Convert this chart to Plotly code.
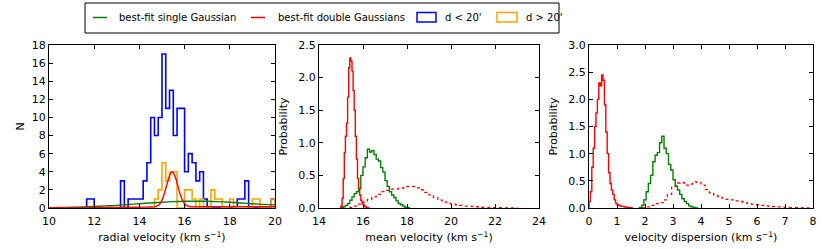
import numpy as np
import plotly.graph_objects as go

W, H = 830, 249

# ---------------- Left panel: radial velocity histograms ----------------
RV_BIN_WIDTH = 1.0 / 6.0
blue_start = 70 / 6.0   # 11.667 km/s
blue_counts = [1, 1, 0, 0, 0, 0, 0, 0, 0, 3, 0, 1, 1, 1, 1, 3, 5, 10, 8, 10,
               17, 11, 13, 8, 11, 11, 4, 6, 5, 3, 4, 1, 0, 0, 0, 0, 0, 0, 0, 0,
               1, 1, 3, 0, 0, 0, 0, 0, 0, 1]
orange_start = 88 / 6.0  # 14.667 km/s
orange_counts = [1, 2, 5, 3, 4, 4, 0, 0, 2, 2, 1, 0, 1, 0, 0, 2, 1, 1, 0, 0,
                 1, 0, 0, 0, 0, 0, 1, 1, 0, 0, 0, 1]

single_x = [10, 10.5, 11, 11.5, 12, 12.5, 13, 13.5, 14, 14.5, 15, 15.5, 16,
            16.5, 17, 17.5, 18, 18.5, 19, 19.5, 20]
single_y = [0.03, 0.05, 0.08, 0.12, 0.17, 0.23, 0.29, 0.38, 0.47, 0.56, 0.64,
            0.70, 0.74, 0.75, 0.74, 0.70, 0.64, 0.56, 0.47, 0.40, 0.34]

double_x = [10, 11, 12, 13, 14, 14.5, 14.7, 14.8, 14.9, 15.0, 15.1, 15.2, 15.3,
            15.4, 15.45, 15.5, 15.6, 15.7, 15.8, 15.9, 16.0, 16.1, 16.2, 16.4,
            17, 18, 19, 20]
double_y = [0.02, 0.03, 0.05, 0.07, 0.09, 0.11, 0.15, 0.24, 0.44, 0.87, 1.55,
            2.45, 3.34, 3.89, 3.97, 3.89, 3.34, 2.46, 1.57, 0.89, 0.47, 0.26,
            0.17, 0.13, 0.14, 0.15, 0.145, 0.13]

# ---------------- Middle panel: mean velocity posteriors ----------------
mv_red_start, mv_red_w = 14.95, 0.05
mv_red = [0.0, 0.03, 0.15, 0.45, 0.85, 1.1, 1.3, 1.7, 2.15, 2.3, 2.25, 2.1,
          1.8, 1.5, 1.1, 0.75, 0.45, 0.3, 0.2, 0.12, 0.08, 0.05, 0.03, 0.02,
          0.01, 0.005]
mv_green_start, mv_green_w = 15.0, 0.1
mv_green = [0.01, 0.02, 0.04, 0.07, 0.12, 0.17, 0.22, 0.25, 0.3, 0.5, 0.63,
            0.77, 0.9, 0.86, 0.88, 0.82, 0.75, 0.72, 0.62, 0.55, 0.42, 0.33,
            0.25, 0.2, 0.16, 0.11, 0.07, 0.05, 0.03, 0.01, 0.005]
mv_dot_start, mv_dot_w = 15.4, 0.2
mv_dot = [0.01, 0.03, 0.06, 0.09, 0.13, 0.17, 0.21, 0.25, 0.27, 0.29, 0.29,
          0.30, 0.31, 0.33, 0.33, 0.31, 0.28, 0.24, 0.2, 0.16, 0.12, 0.09,
          0.07, 0.06, 0.05, 0.04, 0.03, 0.025, 0.02, 0.015, 0.01, 0.008,
          0.006, 0.005, 0.004, 0.003, 0.002, 0.001]

# ---------------- Right panel: velocity dispersion posteriors ----------------
vd_red_start, vd_red_w = 0.0, 0.05
vd_red = [0.12, 0.3, 0.75, 1.1, 1.5, 1.75, 2.0, 2.3, 2.25, 2.45, 2.35, 1.9,
          1.4, 1.0, 0.65, 0.45, 0.33, 0.25, 0.15, 0.09, 0.06, 0.05, 0.04,
          0.03, 0.03, 0.02, 0.015, 0.01, 0.01, 0.005, 0.003]
vd_green_start, vd_green_w = 1.8, 0.08
vd_green = [0.01, 0.05, 0.15, 0.3, 0.45, 0.6, 0.85, 0.97, 1.02, 1.2, 1.32,
            1.1, 1.0, 0.8, 0.7, 0.52, 0.4, 0.33, 0.25, 0.17, 0.12, 0.08, 0.04,
            0.02, 0.01, 0.003]
vd_dot_start, vd_dot_w = 1.9, 0.15
vd_dot = [0.005, 0.02, 0.05, 0.08, 0.1, 0.15, 0.25, 0.4, 0.46, 0.47, 0.42,
          0.44, 0.48, 0.47, 0.42, 0.34, 0.28, 0.24, 0.21, 0.18, 0.16, 0.15,
          0.13, 0.12, 0.1, 0.08, 0.07, 0.06, 0.05, 0.04, 0.03, 0.025, 0.02,
          0.015, 0.01, 0.008, 0.006, 0.005, 0.003, 0.002, 0.001]

GREEN, RED, BLUE, ORANGE = "#008000", "#FF0000", "#0000FF", "#FFA500"
FONT = "DejaVu Sans"


def step_xy(start, width, vals):
    vals = list(vals)
    n = len(vals)
    edges = start + width * np.arange(n + 1)
    xs = [edges[0]] + list(edges[:-1]) + [edges[-1]]
    ys = [0] + vals + [0]
    return xs, ys


fig = go.Figure()


def add_step(start, width, vals, color, xa, ya, dash="solid", lw=1.5):
    xs, ys = step_xy(start, width, vals)
    fig.add_trace(go.Scatter(x=xs, y=ys, mode="lines", line_shape="hv",
                             line=dict(color=color, width=lw, dash=dash),
                             xaxis=xa, yaxis=ya, showlegend=False,
                             hoverinfo="skip"))


add_step(blue_start, RV_BIN_WIDTH, blue_counts, BLUE, "x", "y", lw=1.6)
add_step(orange_start, RV_BIN_WIDTH, orange_counts, ORANGE, "x", "y", lw=1.6)
fig.add_trace(go.Scatter(x=single_x, y=single_y, mode="lines", line_shape="spline",
                         line=dict(color=GREEN, width=1.4), xaxis="x", yaxis="y",
                         showlegend=False))
fig.add_trace(go.Scatter(x=double_x, y=double_y, mode="lines", line_shape="spline",
                         line=dict(color=RED, width=1.4), xaxis="x", yaxis="y",
                         showlegend=False))

add_step(mv_dot_start, mv_dot_w, mv_dot, RED, "x2", "y2", dash="dot", lw=1.3)
add_step(mv_green_start, mv_green_w, mv_green, GREEN, "x2", "y2", lw=1.4)
add_step(mv_red_start, mv_red_w, mv_red, RED, "x2", "y2", lw=1.4)

add_step(vd_dot_start, vd_dot_w, vd_dot, RED, "x3", "y3", dash="dot", lw=1.3)
add_step(vd_green_start, vd_green_w, vd_green, GREEN, "x3", "y3", lw=1.4)
add_step(vd_red_start, vd_red_w, vd_red, RED, "x3", "y3", lw=1.4)

# ---------------- Layout ----------------
def px_x(p):
    return p / W


def px_y(p):
    return 1 - p / H


y_dom = [px_y(208), px_y(45)]
axcommon = dict(showline=True, linecolor="black", linewidth=1, mirror="allticks",
                ticks="inside", ticklen=4, tickcolor="black", showgrid=False,
                zeroline=False, automargin=False,
                tickfont=dict(family=FONT, size=11, color="black"))
xcommon = dict(axcommon, ticklabelstandoff=3)
title_font = dict(family=FONT, size=11, color="black")

fig.update_layout(
    width=W, height=H, margin=dict(l=0, r=0, t=0, b=0, autoexpand=False),
    paper_bgcolor="white", plot_bgcolor="white", showlegend=False,
    xaxis=dict(domain=[px_x(49), px_x(275)], range=[10, 20], dtick=2,
               anchor="y", title=dict(text="radial velocity (km s<sup>−1</sup>)",
                                      font=title_font, standoff=6), **xcommon),
    yaxis=dict(domain=y_dom, range=[0, 18], dtick=2, anchor="x",
               title=dict(text="N", font=title_font, standoff=4), **axcommon),
    xaxis2=dict(domain=[px_x(319), px_x(539)], range=[14, 24], dtick=2,
                anchor="y2", title=dict(text="mean velocity (km s<sup>−1</sup>)",
                                        font=title_font, standoff=6), **xcommon),
    yaxis2=dict(domain=y_dom, range=[0, 2.5], dtick=0.5, tickformat=".1f",
                anchor="x2", title=dict(text="Probability", font=title_font,
                                        standoff=8), **axcommon),
    xaxis3=dict(domain=[px_x(589), px_x(813)], range=[0, 8], dtick=1,
                anchor="y3", title=dict(text="velocity dispersion (km s<sup>−1</sup>)",
                                        font=title_font, standoff=6), **xcommon),
    yaxis3=dict(domain=y_dom, range=[0, 3.0], dtick=0.5, tickformat=".1f",
                anchor="x3", title=dict(text="Probability", font=title_font,
                                        standoff=8), **axcommon),
)

# ---------------- Manual legend ----------------
shapes = []
annotations = []
shapes.append(dict(type="rect", xref="paper", yref="paper",
                   x0=px_x(85), x1=px_x(559), y0=px_y(33), y1=px_y(3),
                   line=dict(color="black", width=1), fillcolor="white", layer="above"))
LEG_Y = 17.5
legend_items = [
    ("line", GREEN, 93, 107, 117, "best-fit single Gaussian"),
    ("line", RED, 251, 265, 276, "best-fit double Gaussians"),
    ("rect", BLUE, 417, 436, 443, "d &lt; 20'"),
    ("rect", ORANGE, 497, 517, 524, "d &gt; 20'"),
]
for kind, col, x0, x1, tx, label in legend_items:
    if kind == "line":
        shapes.append(dict(type="line", xref="paper", yref="paper",
                           x0=px_x(x0), x1=px_x(x1), y0=px_y(LEG_Y), y1=px_y(LEG_Y),
                           line=dict(color=col, width=1.5), layer="above"))
    else:
        shapes.append(dict(type="rect", xref="paper", yref="paper",
                           x0=px_x(x0), x1=px_x(x1), y0=px_y(22), y1=px_y(12.5),
                           line=dict(color=col, width=1.5), fillcolor="rgba(0,0,0,0)",
                           layer="above"))
    annotations.append(dict(xref="paper", yref="paper", x=px_x(tx), y=px_y(LEG_Y),
                            xanchor="left", yanchor="middle", showarrow=False,
                            text=label, font=dict(family=FONT, size=10, color="black")))

fig.update_layout(shapes=shapes, annotations=annotations)

fig.write_html("out.html", config={"displayModeBar": False},
               post_script="document.body.style.margin='0';"
                           "document.body.style.overflow='hidden';")
